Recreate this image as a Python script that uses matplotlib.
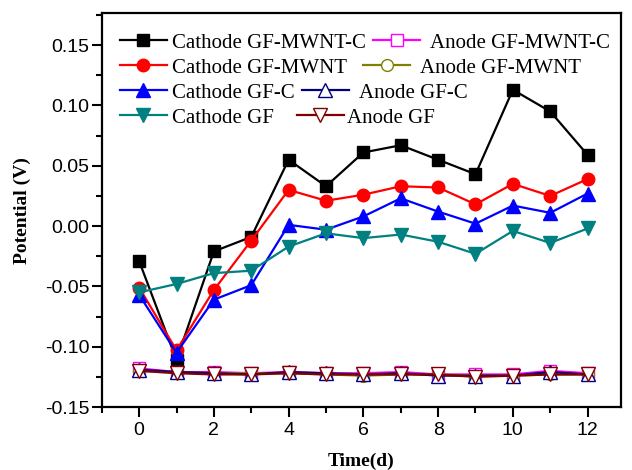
import matplotlib
matplotlib.use("Agg")
import matplotlib.pyplot as plt
from matplotlib.ticker import MultipleLocator
from matplotlib.legend import Legend

days = list(range(13))

cathode_gf_mwnt_c = [-0.029, -0.111, -0.021, -0.009, 0.055, 0.033, 0.061, 0.067, 0.055, 0.043, 0.113, 0.095, 0.059]
cathode_gf_mwnt = [-0.051, -0.103, -0.053, -0.012, 0.030, 0.021, 0.026, 0.033, 0.032, 0.018, 0.035, 0.025, 0.039]
cathode_gf_c = [-0.057, -0.105, -0.061, -0.049, 0.001, -0.003, 0.008, 0.023, 0.012, 0.002, 0.017, 0.011, 0.027]
cathode_gf = [-0.055, -0.048, -0.039, -0.037, -0.017, -0.006, -0.010, -0.007, -0.013, -0.023, -0.004, -0.014, -0.002]

anode_gf_mwnt_c = [-0.118, -0.121, -0.121, -0.122, -0.121, -0.122, -0.122, -0.121, -0.123, -0.123, -0.123, -0.120, -0.122]
anode_gf_mwnt = [-0.120, -0.121, -0.122, -0.122, -0.122, -0.123, -0.124, -0.123, -0.123, -0.124, -0.124, -0.123, -0.123]
anode_gf_c = [-0.119, -0.121, -0.122, -0.123, -0.121, -0.122, -0.123, -0.122, -0.124, -0.124, -0.124, -0.121, -0.123]
anode_gf = [-0.120, -0.122, -0.123, -0.123, -0.122, -0.123, -0.123, -0.123, -0.123, -0.125, -0.124, -0.123, -0.123]

fig = plt.figure(figsize=(6.32, 4.70), dpi=100)
ax = fig.add_axes([0.161, 0.134, 0.822, 0.838])

lw = 1.6
ms = 8.5
c1, = ax.plot(days, cathode_gf_mwnt_c, color='black', marker='s', ms=ms, lw=lw, label='Cathode GF-MWNT-C')
c2, = ax.plot(days, cathode_gf_mwnt, color='red', marker='o', ms=ms + 0.5, lw=lw, label='Cathode GF-MWNT')
c3, = ax.plot(days, cathode_gf_c, color='blue', marker='^', ms=ms + 1, lw=lw, label='Cathode GF-C')
c4, = ax.plot(days, cathode_gf, color='#008080', marker='v', ms=ms + 1, lw=lw, label='Cathode GF')

a1, = ax.plot(days, anode_gf_mwnt_c, color='magenta', marker='s', ms=ms, lw=lw, mfc='white', label='Anode GF-MWNT-C')
a2, = ax.plot(days, anode_gf_mwnt, color='#808000', marker='o', ms=ms, lw=lw, mfc='white', label='Anode GF-MWNT')
a3, = ax.plot(days, anode_gf_c, color='#000080', marker='^', ms=ms + 1, lw=lw, mfc='white', label='Anode GF-C')
a4, = ax.plot(days, anode_gf, color='#800000', marker='v', ms=ms + 1, lw=lw, mfc='white', label='Anode GF')

ax.set_xlim(-1, 12.9)
ax.set_ylim(-0.15, 0.1765)
ax.set_xticks([0, 2, 4, 6, 8, 10, 12])
ax.set_yticks([-0.15, -0.10, -0.05, 0.00, 0.05, 0.10, 0.15])
ax.set_yticklabels(['-0.15', '-0.10', '-0.05', '0.00', '0.05', '0.10', '0.15'])
ax.xaxis.set_minor_locator(MultipleLocator(1))
ax.yaxis.set_minor_locator(MultipleLocator(0.025))
ax.tick_params(which='major', direction='out', length=7, width=1.5, labelsize=14,
               top=False, right=False)
ax.tick_params(axis='y', which='major', pad=2)
ax.tick_params(which='minor', direction='out', length=4, width=1.5, top=False, right=False)
for lab in ax.get_xticklabels() + ax.get_yticklabels():
    lab.set_fontfamily('Liberation Sans')
for s in ax.spines.values():
    s.set_linewidth(1.6)

ax.set_xlabel('Time(d)', fontfamily='Liberation Serif', fontweight='bold', fontsize=14, labelpad=10)
ax.set_ylabel('Potential (V)', fontfamily='Liberation Serif', fontweight='bold', fontsize=14, labelpad=10)

# legend entries placed individually (pixel positions of the reference layout)
ax_left, ax_top, ax_w, ax_h = 102.0, 13.0, 519.0, 394.0
fs = 15
em = fs * 100 / 72.0
entries = [
    (c1, 120, 0, 0.24), (c2, 120, 1, 0.24), (c3, 120, 2, 0.24), (c4, 120, 3, 0.24),
    (a1, 373, 0, 0.5), (a2, 363, 1, 0.5), (a3, 302, 2, 0.5), (a4, 297, 3, 0.15),
]
for h, px, row, pad in entries:
    py = 42.7 + 25 * row
    xf = (px - ax_left) / ax_w
    yf = 1 - (py - ax_top) / ax_h
    lg = Legend(ax, [h], [h.get_label()], loc='center left', bbox_to_anchor=(xf, yf),
                bbox_transform=ax.transAxes, frameon=False, borderpad=0, borderaxespad=0,
                prop={'family': 'Liberation Serif', 'size': fs},
                handlelength=47 / em, handletextpad=pad)
    ax.add_artist(lg)

fig.savefig('out.png', dpi=100)
